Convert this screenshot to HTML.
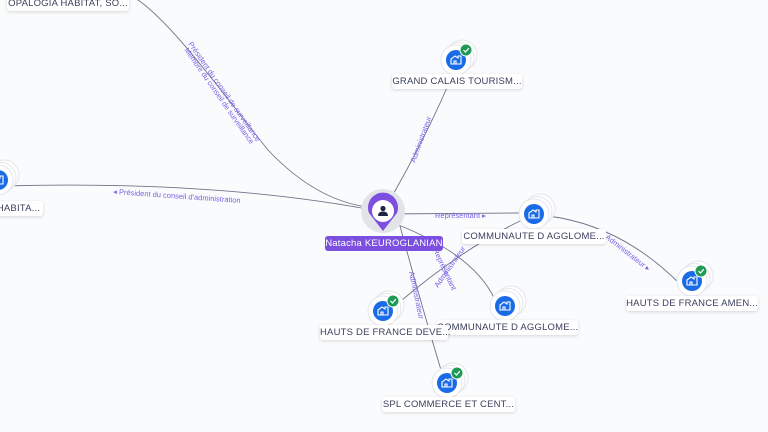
<!DOCTYPE html>
<html><head><meta charset="utf-8"><style>
html,body{margin:0;padding:0;width:768px;height:432px;overflow:hidden;background:#f9fbfc;font-family:"Liberation Sans",sans-serif}
.lb{position:absolute;background:#fff;border-radius:3px;box-shadow:0 1px 3px rgba(0,0,0,.15);font-size:9.5px;color:#3a3f5c;line-height:15px;text-align:center;white-space:nowrap;letter-spacing:.2px}
</style></head><body>
<svg width="768" height="432" style="position:absolute;left:0;top:0">
<defs>
<g id="nd">
<circle cx="6" cy="-5" r="15" fill="#fff" stroke="#e4e6ea"/>
<circle cx="3" cy="-2.5" r="15" fill="#fff" stroke="#e4e6ea"/>
<circle cx="0" cy="0" r="15" fill="#fff" stroke="#e4e6ea"/>
<circle cx="0" cy="0" r="10" fill="#1a6be6"/>
<path d="M-5,4 V-1 L-1,-4 L2,-2 V-4 H5 V4 Z M-2,4 V1 H0 V4" fill="none" stroke="#fff" stroke-width="1.1"/>
</g>
<g id="ck"><circle r="6" fill="#1f9a55" stroke="#fff" stroke-width="1"/><path d="M-2.5,0 L-0.5,2 L2.8,-1.8" fill="none" stroke="#fff" stroke-width="1.2"/></g>
</defs>
<g fill="none" stroke="#6e7389" stroke-width="0.9">
<path d="M135,-2 C170,20 220,90 268,150 Q320,205 378,208"/>
<path d="M383,212 Q220,180 2,186"/>
<path d="M383,212 Q425,140 452,76"/>
<path d="M383,214 L520,213"/>
<path d="M522,220 Q460,250 395,306"/>
<path d="M396,224 Q475,255 495,300"/>
<path d="M400,226 Q420,300 441,370"/>
<path d="M548,216 Q620,225 678,282"/>
</g>
<use href="#nd" x="-2" y="180"/>
<use href="#nd" x="456" y="60"/><use href="#ck" x="466" y="50"/>
<use href="#nd" x="534" y="214"/>
<use href="#nd" x="692" y="281"/><use href="#ck" x="701" y="271"/>
<use href="#nd" x="505" y="306"/>
<use href="#nd" x="383" y="311"/><use href="#ck" x="393" y="301"/>
<use href="#nd" x="447" y="383"/><use href="#ck" x="457" y="373"/>
<circle cx="383" cy="211" r="22" fill="#e3e4e8"/>
<path d="M369,213 A15,15 0 1 1 397,213 L383,231 Z" fill="#7c4fe0"/>
<circle cx="383" cy="211" r="11" fill="#fff"/>
<circle cx="383" cy="208.5" r="2.6" fill="#1d2340"/>
<path d="M378,216 Q378,211.5 383,211.5 Q388,211.5 388,216 Z" fill="#1d2340"/>
<g font-size="7.5" fill="#7b61e8" font-family="Liberation Sans,sans-serif">
<text transform="translate(188,44) rotate(55)">Président du conseil de surveillance</text>
<text transform="translate(184,50) rotate(55)">Membre du conseil de surveillance</text>
<text transform="translate(113,194) rotate(4)">◂ Président du conseil d'administration</text>
<text transform="translate(415,163) rotate(-70)">Administrateur</text>
<text x="435" y="218">Représentant ▸</text>
<text transform="translate(438,288) rotate(-55)">Administrateur</text>
<text transform="translate(433,250) rotate(65)">Représentant</text>
<text transform="translate(409,272) rotate(78)">Administrateur</text>
<text transform="translate(605,238) rotate(38)">Administrateur ▸</text>
</g>
</svg>
<div class="lb" style="left:7px;top:-4px;width:122px">OPALOGIA HABITAT, SO...</div>
<div class="lb" style="left:-6px;top:201px;width:49px">HABITA...</div>
<div class="lb" style="left:392px;top:74px;width:130px">GRAND CALAIS TOURISM...</div>
<div class="lb" style="left:462px;top:229px;width:144px">COMMUNAUTE D AGGLOME...</div>
<div class="lb" style="left:626px;top:296px;width:132px">HAUTS DE FRANCE AMEN...</div>
<div class="lb" style="left:437px;top:320px;width:141px">COMMUNAUTE D AGGLOME...</div>
<div class="lb" style="left:320px;top:325px;width:128px">HAUTS DE FRANCE DEVE...</div>
<div class="lb" style="left:382px;top:397px;width:133px">SPL COMMERCE ET CENT...</div>
<div class="lb" style="left:325px;top:236px;width:118px;background:#7c4fe0;color:#fff;box-shadow:none">Natacha KEUROGLANIAN</div>
</body></html>
